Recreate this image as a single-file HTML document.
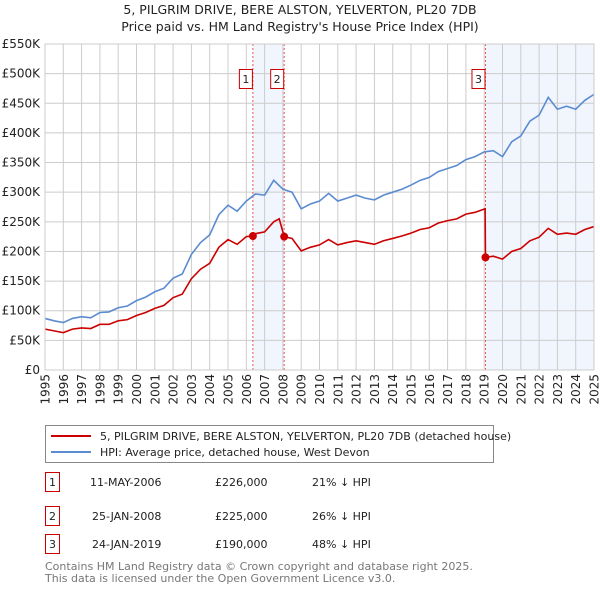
<!DOCTYPE html>
<html><head><meta charset="utf-8"><style>
body{margin:0;background:#fff;font-family:"Liberation Sans","DejaVu Sans",sans-serif;}
svg{display:block}
</style></head><body>
<svg width="600" height="590" viewBox="0 0 600 590" xmlns="http://www.w3.org/2000/svg" font-family="'DejaVu Sans','Liberation Sans',sans-serif">
<text x="300" y="14" text-anchor="middle" font-size="12.5" fill="#222">5, PILGRIM DRIVE, BERE ALSTON, YELVERTON, PL20 7DB</text>
<text x="300" y="31" text-anchor="middle" font-size="12.5" fill="#222">Price paid vs. HM Land Registry's House Price Index (HPI)</text>
<g id="plot"></g>
<g>
<rect x="45.5" y="425.5" width="448" height="37" fill="#fff" stroke="#888"/>
<line x1="51" y1="436" x2="91" y2="436" stroke="#cc0000" stroke-width="2"/>
<text x="100" y="440" font-size="11" fill="#222">5, PILGRIM DRIVE, BERE ALSTON, YELVERTON, PL20 7DB (detached house)</text>
<line x1="51" y1="452" x2="91" y2="452" stroke="#5b8bd0" stroke-width="2"/>
<text x="100" y="456" font-size="11" fill="#222">HPI: Average price, detached house, West Devon</text>
</g>
<g font-size="11" fill="#222">
<g><rect x="45.5" y="472.5" width="14" height="19" fill="#fff" stroke="#cc0000"/><text x="52.5" y="486" text-anchor="middle">1</text><text x="90" y="486">11-MAY-2006</text><text x="215" y="486">£226,000</text><text x="312" y="486">21% ↓ HPI</text></g>
<g><rect x="45.5" y="506.5" width="14" height="19" fill="#fff" stroke="#cc0000"/><text x="52.5" y="520" text-anchor="middle">2</text><text x="92" y="520">25-JAN-2008</text><text x="215" y="520">£225,000</text><text x="312" y="520">26% ↓ HPI</text></g>
<g><rect x="45.5" y="534.5" width="14" height="19" fill="#fff" stroke="#cc0000"/><text x="52.5" y="548" text-anchor="middle">3</text><text x="92" y="548">24-JAN-2019</text><text x="215" y="548">£190,000</text><text x="312" y="548">48% ↓ HPI</text></g>
</g>
<text x="45" y="570" font-size="11" fill="#777">Contains HM Land Registry data © Crown copyright and database right 2025.</text>
<text x="45" y="582" font-size="11" fill="#777">This data is licensed under the Open Government Licence v3.0.</text>
</svg>
<script>
const hpiDates=[1995,1995.5,1996,1996.5,1997,1997.5,1998,1998.5,1999,1999.5,2000,2000.5,2001,2001.5,2002,2002.5,2003,2003.5,2004,2004.5,2005,2005.5,2006,2006.5,2007,2007.5,2008,2008.5,2009,2009.5,2010,2010.5,2011,2011.5,2012,2012.5,2013,2013.5,2014,2014.5,2015,2015.5,2016,2016.5,2017,2017.5,2018,2018.5,2019,2019.5,2020,2020.5,2021,2021.5,2022,2022.5,2023,2023.5,2024,2024.5,2025];
const hpiValues=[87,83,80,87,90,88,97,98,105,108,117,123,132,138,155,162,195,215,228,262,278,268,285,297,295,320,305,300,272,280,285,298,285,290,295,290,287,295,300,305,312,320,325,335,340,345,355,360,368,370,360,385,395,420,430,460,440,445,440,455,465];
const priceDates=[1995,1995.5,1996,1996.5,1997,1997.5,1998,1998.5,1999,1999.5,2000,2000.5,2001,2001.5,2002,2002.5,2003,2003.5,2004,2004.5,2005,2005.5,2006,2006.36,2006.5,2007,2007.5,2007.8,2008.07,2008.5,2009,2009.5,2010,2010.5,2011,2011.5,2012,2012.5,2013,2013.5,2014,2014.5,2015,2015.5,2016,2016.5,2017,2017.5,2018,2018.5,2019.05,2019.07,2019.5,2020,2020.5,2021,2021.5,2022,2022.5,2023,2023.5,2024,2024.5,2025];
const priceValues=[69,66,63,69,71,70,77,77,83,85,92,97,104,109,122,128,154,170,180,207,220,212,225,226,230,233,250,255,225,222,201,207,211,220,211,215,218,215,212,218,222,226,231,237,240,248,252,255,263,266,272,190,192,187,200,205,218,224,239,229,231,229,237,242];
const saleDates=[2006.36,2008.07,2019.07];
const saleValues=[226,225,190];
const saleLabels=["1","2","3"];
const yTicks=[0,50,100,150,200,250,300,350,400,450,500,550];
const yTickLabels=["£0","£50K","£100K","£150K","£200K","£250K","£300K","£350K","£400K","£450K","£500K","£550K"];
const xYears=[];for(let y=1995;y<=2025;y++)xYears.push(y);

const NS="http://www.w3.org/2000/svg";
const X0=45,X1=594,Y0=370,Y1=44;
const xs=t=>X0+(t-1995)/30*(X1-X0);
const ys=v=>Y0-v/550*(Y0-Y1);
const plot=document.getElementById('plot');
function mk(tag,attrs,parent){const e=document.createElementNS(NS,tag);for(const k in attrs)e.setAttribute(k,attrs[k]);(parent||plot).appendChild(e);return e;}
// shading
const sh1=mk('rect',{x:xs(saleDates[0]),y:Y1,width:xs(saleDates[1])-xs(saleDates[0]),height:Y0-Y1,fill:'#eef3fc',opacity:0.8});


const sh2=mk('rect',{x:xs(saleDates[2]),y:Y1,width:X1-xs(saleDates[2]),height:Y0-Y1,fill:'#eef3fc',opacity:0.8});


// grid
yTicks.forEach((v,i)=>{
 const l=mk('line',{x1:X0,x2:X1,y1:ys(v),y2:ys(v),stroke:'#ccc','stroke-width':1});
 
 
 const t=mk('text',{x:40,y:ys(v)+4,'text-anchor':'end','font-size':12,fill:'#222'});
 t.textContent=yTickLabels[i];
 
 
});
xYears.forEach(yr=>{
 const l=mk('line',{x1:xs(yr),x2:xs(yr),y1:Y1,y2:Y0,stroke:'#ccc','stroke-width':1});
 
 
 const t=mk('text',{x:0,y:0,'text-anchor':'end','font-size':12,fill:'#222',transform:`translate(${xs(yr)+4.5},374) rotate(-90)`});
 t.textContent=yr;
 
 
});
// sale vlines
saleDates.forEach((d,i)=>{
 const l=mk('line',{x1:xs(d),x2:xs(d),y1:Y1,y2:Y0,stroke:'#e55','stroke-width':1,'stroke-dasharray':'2,2'});
 
 
});
// lines
const hp=mk('polyline',{points:hpiDates.map((d,i)=>xs(d)+','+ys(hpiValues[i])).join(' '),fill:'none',stroke:'#5b8bd0','stroke-width':1.6});


const pp=mk('polyline',{points:priceDates.map((d,i)=>xs(d)+','+ys(priceValues[i])).join(' '),fill:'none',stroke:'#cc0000','stroke-width':1.6});


saleDates.forEach((d,i)=>{
 const c=mk('circle',{cx:xs(d),cy:ys(saleValues[i]),r:4,fill:'#cc0000'});
 
 
 const r=mk('rect',{x:xs(d)-13.5,y:69.5,width:13,height:19,fill:'#fff',stroke:'#cc0000'});
 
 
 const t=mk('text',{x:xs(d)-7,y:83,'text-anchor':'middle','font-size':11,fill:'#222'});
 t.textContent=saleLabels[i];
 
 
});
const ax=mk('rect',{x:X0,y:Y1,width:X1-X0,height:Y0-Y1,fill:'none',stroke:'#ccc'});


</script>
</body></html>
